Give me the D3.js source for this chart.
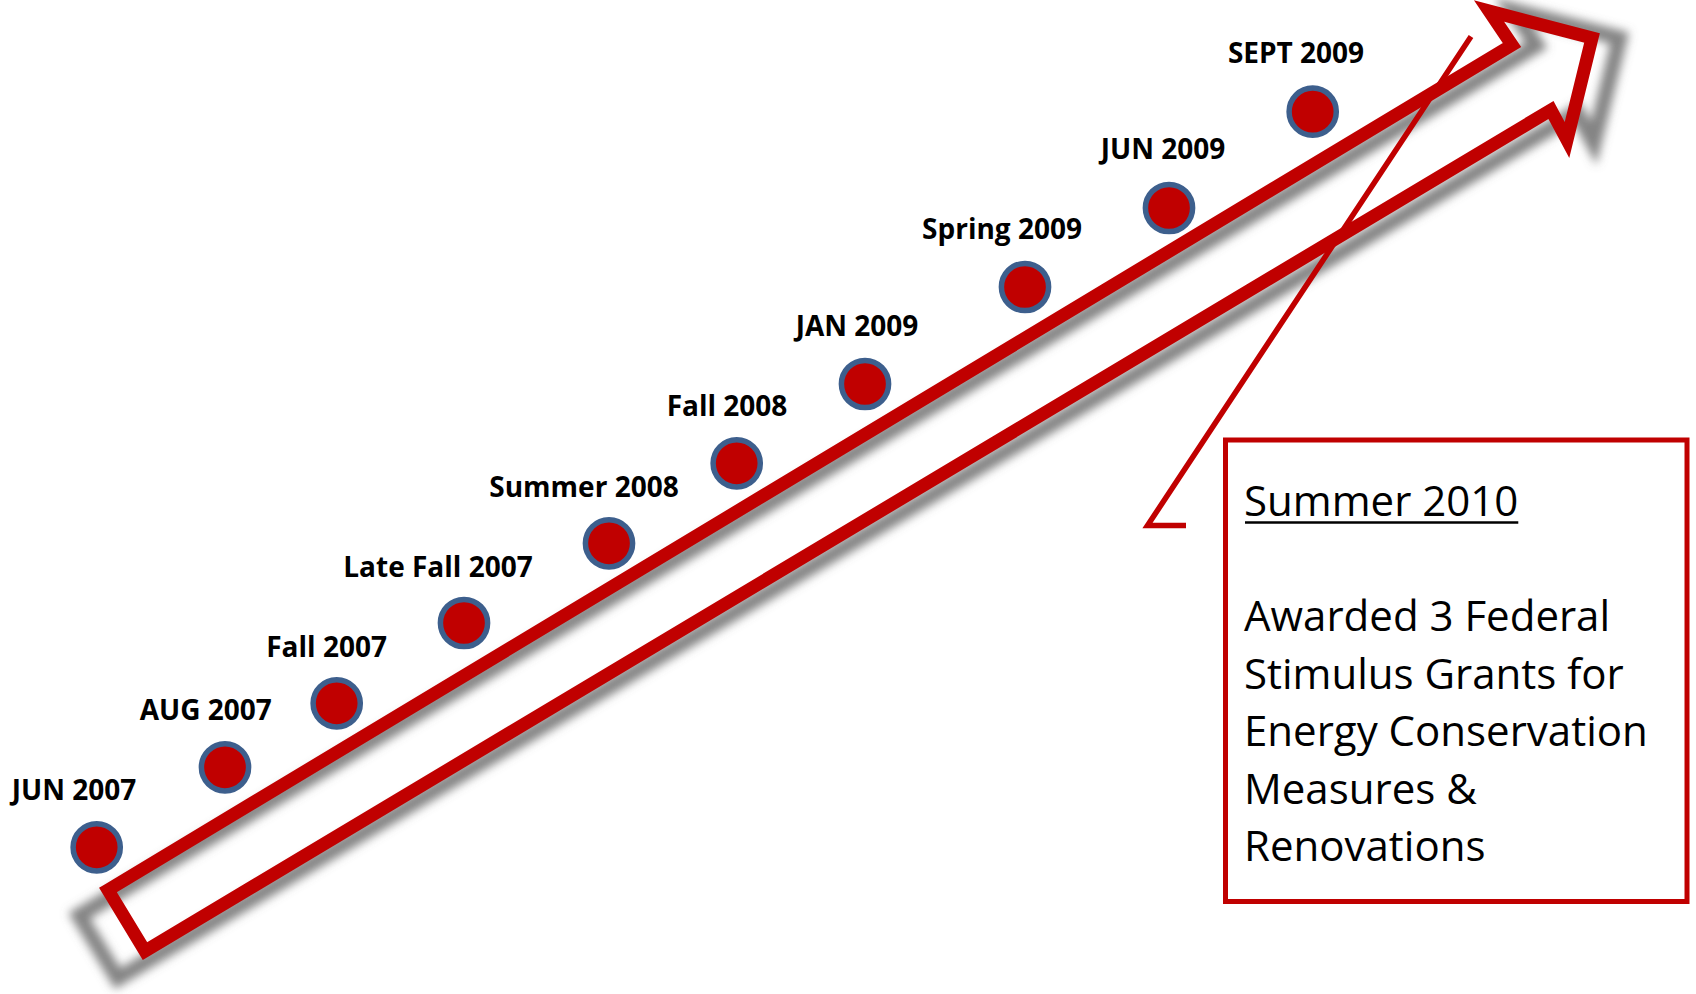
<!DOCTYPE html>
<html>
<head>
<meta charset="utf-8">
<script src="https://cdn.jsdelivr.net/npm/d3@7"></script>
<style>
  html, body { margin: 0; padding: 0; background: #ffffff; }
  svg { display: block; }
</style>
</head>
<body>
<div id="chart"></div>
<script>
// ---- Data ----
const milestones = ["JUN 2007", "AUG 2007", "Fall 2007", "Late Fall 2007", "Summer 2008",
                    "Fall 2008", "JAN 2009", "Spring 2009", "JUN 2009", "SEPT 2009"];
const dotX   = [96.7, 225, 336.7, 464, 609, 736.7, 865, 1025, 1169, 1312.7];
const dotY   = [847.3, 767.3, 703.3, 623, 543.3, 463.3, 384, 287, 208, 111.7];
const labelX = [74, 205.8, 326.6, 438, 584, 727, 857, 1002, 1163, 1296];
const labelY = [800, 720, 656.5, 576.5, 496.5, 416, 336.4, 238.5, 158.5, 62.7];

const calloutTitle = "Summer 2010";
const calloutLines = ["Awarded 3 Federal", "Stimulus Grants for", "Energy Conservation", "Measures &", "Renovations"];

// Arrow outline (tail -> head -> tail), in the same coordinate frame
const arrowX = [108, 1512, 1489, 1592, 1567, 1551, 145];
const arrowY = [890, 45, 11, 38, 140, 110, 951];

// Callout pointer
const pointerX = [1471, 1147.5, 1186];
const pointerY = [36.5, 525.5, 525.5];

// ---- Layout ----
const W = 1696, H = 994;
const RED = "#C00000", BLUE = "#3D5F8D";

const x = d3.scaleLinear().domain([0, 1696]).range([0, W]);
const y = d3.scaleLinear().domain([0, 994]).range([0, H]);

const svg = d3.select("#chart").append("svg")
  .attr("width", W).attr("height", H)
  .style("background", "#fff");

const defs = svg.append("defs");
const f = defs.append("filter").attr("id", "blur")
  .attr("x", "-10%").attr("y", "-10%").attr("width", "120%").attr("height", "120%");
f.append("feGaussianBlur").attr("stdDeviation", 4.5);

const arrowPts = arrowX.map((v, i) => [x(v), y(arrowY[i])]);
const line = d3.line();

// shadow (perspective-like: slightly enlarged and shifted)
const cx = x(850), cy = y(480);
svg.append("path")
  .attr("d", line(arrowPts) + "Z")
  .attr("fill", "none")
  .attr("stroke", "#6e6e6e")
  .attr("stroke-opacity", 0.85)
  .attr("stroke-width", 15)
  .attr("stroke-linejoin", "miter")
  .attr("stroke-miterlimit", 10)
  .attr("filter", "url(#blur)")
  .attr("transform", `translate(${cx - 0.6},${cy + 13.4}) scale(1.038,1.030) translate(${-cx},${-cy})`);

// arrow outline
svg.append("path")
  .attr("d", line(arrowPts) + "Z")
  .attr("fill", "none")
  .attr("stroke", RED)
  .attr("stroke-width", 13)
  .attr("stroke-linejoin", "miter")
  .attr("stroke-miterlimit", 10);

// callout pointer
svg.append("path")
  .attr("d", line(pointerX.map((v, i) => [x(v), y(pointerY[i])])))
  .attr("fill", "none")
  .attr("stroke", RED)
  .attr("stroke-width", 5.5)
  .attr("stroke-linejoin", "miter");

// dots
const data = milestones.map((m, i) => ({ m, dx: dotX[i], dy: dotY[i], lx: labelX[i], ly: labelY[i] }));

svg.append("g").selectAll("circle").data(data).join("circle")
  .attr("cx", d => x(d.dx)).attr("cy", d => y(d.dy))
  .attr("r", 23.6)
  .attr("fill", RED)
  .attr("stroke", BLUE)
  .attr("stroke-width", 5.5);

// labels
svg.append("g").selectAll("text").data(data).join("text")
  .attr("x", d => x(d.lx)).attr("y", d => y(d.ly))
  .attr("text-anchor", "middle")
  .style("font-family", "'Open Sans', 'DejaVu Sans', sans-serif")
  .style("font-weight", 700)
  .style("font-size", "28px")
  .attr("fill", "#000")
  .text(d => d.m);

// callout box
const box = { x0: 1225.5, y0: 440, x1: 1687, y1: 901.5 };
svg.append("rect")
  .attr("x", x(box.x0)).attr("y", y(box.y0))
  .attr("width", x(box.x1) - x(box.x0)).attr("height", y(box.y1) - y(box.y0))
  .attr("fill", "#fff")
  .attr("stroke", RED)
  .attr("stroke-width", 5);

const tx = x(1244);
const title = svg.append("text")
  .attr("x", tx).attr("y", y(516))
  .style("font-family", "'Open Sans', 'DejaVu Sans', sans-serif")
  .style("font-size", "42px")
  .attr("fill", "#000")
  .text(calloutTitle);
const tw = title.node().getComputedTextLength();
svg.append("line")
  .attr("x1", tx + 1).attr("x2", tx + tw)
  .attr("y1", y(522.5)).attr("y2", y(522.5))
  .attr("stroke", "#000").attr("stroke-width", 2.5);

svg.append("g").selectAll("text").data(calloutLines).join("text")
  .attr("x", tx)
  .attr("y", (d, i) => y(631 + i * 57.6))
  .style("font-family", "'Open Sans', 'DejaVu Sans', sans-serif")
  .style("font-size", "42px")
  .attr("fill", "#000")
  .text(d => d);
</script>
</body>
</html>
